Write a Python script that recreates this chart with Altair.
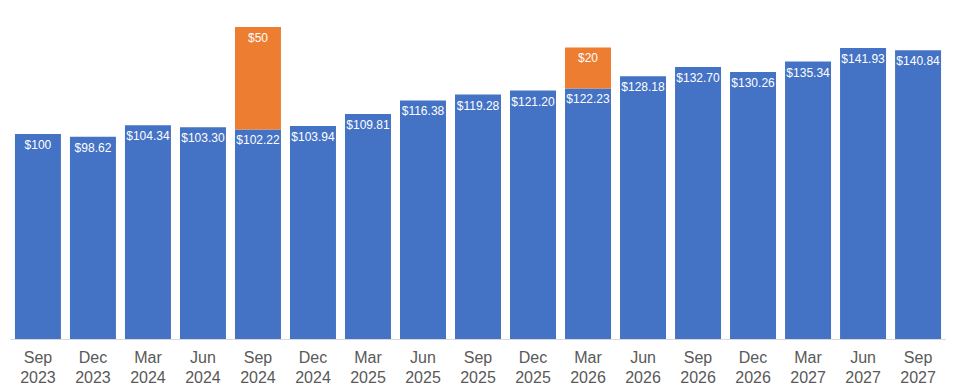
import altair as alt
import pandas as pd

periods = ["Sep 2023", "Dec 2023", "Mar 2024", "Jun 2024", "Sep 2024", "Dec 2024",
           "Mar 2025", "Jun 2025", "Sep 2025", "Dec 2025", "Mar 2026", "Jun 2026",
           "Sep 2026", "Dec 2026", "Mar 2027", "Jun 2027", "Sep 2027"]
base_values = [100, 98.62, 104.34, 103.30, 102.22, 103.94, 109.81, 116.38, 119.28,
               121.20, 122.23, 128.18, 132.70, 130.26, 135.34, 141.93, 140.84]
base_labels = ["$100", "$98.62", "$104.34", "$103.30", "$102.22", "$103.94", "$109.81",
               "$116.38", "$119.28", "$121.20", "$122.23", "$128.18", "$132.70",
               "$130.26", "$135.34", "$141.93", "$140.84"]
extra_values = [0, 0, 0, 0, 50, 0, 0, 0, 0, 0, 20, 0, 0, 0, 0, 0, 0]
extra_labels = ["", "", "", "", "$50", "", "", "", "", "", "$20", "", "", "", "", "", ""]

rows = []
for i, p in enumerate(periods):
    rows.append({"period": p, "series": "base", "order": 0, "value": base_values[i],
                 "start": 0, "end": base_values[i], "label": base_labels[i]})
    if extra_values[i] > 0:
        rows.append({"period": p, "series": "extra", "order": 1, "value": extra_values[i],
                     "start": base_values[i], "end": base_values[i] + extra_values[i],
                     "label": extra_labels[i]})
df = pd.DataFrame(rows)

x = alt.X("period:N", sort=periods, title=None,
          scale=alt.Scale(paddingInner=0.164, paddingOuter=0.09),
          axis=alt.Axis(labelExpr="split(datum.label, ' ')", labelAngle=0,
                        labelFontSize=16, labelColor="#595959", labelFont="Liberation Sans",
                        labelLineHeight=20, labelPadding=10, ticks=False,
                        domainColor="#d9d9d9", domainWidth=1, grid=False))
y = alt.Y("end:Q", title=None, scale=alt.Scale(domain=[0, 161.5], nice=False), axis=None)

bars = alt.Chart(df).mark_bar().encode(
    x=x, y=y, y2="start:Q",
    color=alt.Color("series:N", scale=alt.Scale(domain=["base", "extra"],
                                                range=["#4472C4", "#ED7D31"]), legend=None),
)

text = alt.Chart(df).mark_text(baseline="top", dy=6, color="white", fontSize=12,
                               font="Liberation Sans").encode(
    x=alt.X("period:N", sort=periods), y=y, text="label:N")

chart = (bars + text).properties(
    width=936, height=331,
    padding={"left": 2, "top": 0, "right": 0, "bottom": 0},
).configure_view(stroke=None)

chart.save("out.html", embed_options={"renderer": "svg", "actions": False})
